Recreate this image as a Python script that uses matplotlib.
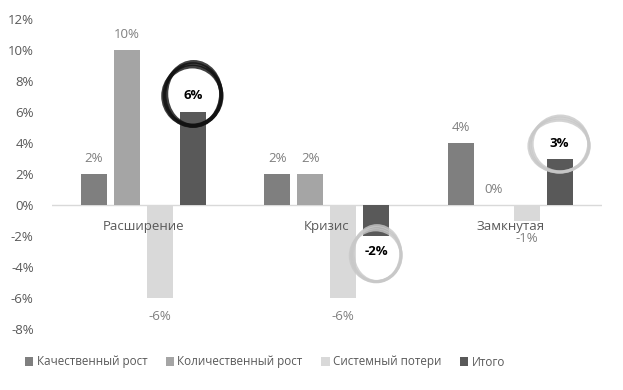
import numpy as np
import matplotlib.pyplot as plt
from matplotlib.patches import Ellipse

categories = ['Расширение', 'Кризис', 'Замкнутая']
series = ['Качественный рост', 'Количественный рост', 'Системный потери', 'Итого']
values = [
    [2, 2, 4],      # Качественный рост
    [10, 2, 0],     # Количественный рост
    [-6, -6, -1],   # Системный потери
    [6, -2, 3],     # Итого
]
colors = ['#7f7f7f', '#a5a5a5', '#d9d9d9', '#595959']
yticks = list(range(-8, 13, 2))

plt.rcParams['font.family'] = ['Open Sans', 'DejaVu Sans']

fig = plt.figure(figsize=(6.23, 3.90), dpi=100)
ax = fig.add_axes([0.083, 0.156, 0.883, 0.795])

x = np.arange(len(categories))
step = 0.18
width = 0.142
for i, (name, vals) in enumerate(zip(series, values)):
    xs = x + (i - 1.5) * step
    ax.bar(xs, vals, width=width, color=colors[i], label=name, zorder=2)
    for xi, v in zip(xs, vals):
        if i == 3:
            continue
        off = 16 if v >= 0 else -18
        ax.annotate(f'{v}%', (xi, v), xytext=(0, off), textcoords='offset pixels',
                    ha='center', va='center', fontsize=9.5, color='#7f7f7f', zorder=4)

# Итого labels, bold, circled
tot_x = x + 1.5 * step
tot_label_y = [7.1, -3.0, 4.0]
for xi, v, ly in zip(tot_x, values[3], tot_label_y):
    ax.text(xi, ly, f'{v}%', ha='center', va='center', fontsize=9.5,
            fontweight='bold', color='black', zorder=5)

# hand-drawn circles (decoration)
circles = [
    # x, y, w, h, color, lw
    (tot_x[0], 7.1, 0.31, 4.0, '#111111', 4.5),
    (tot_x[1], -3.2, 0.27, 3.5, '#c8c8c8', 3.5),
    (tot_x[2], 3.87, 0.32, 3.5, '#c8c8c8', 3.5),
]
jitter = [(0, 0, 1.0, 1.0), (0.004, 0.08, 0.96, 1.03), (-0.003, -0.06, 1.03, 0.95)]
for cx, cy, w, h, c, lw in circles:
    for dx, dy, sw, sh in jitter:
        ax.add_patch(Ellipse((cx + dx, cy + dy), w * sw, h * sh, fill=False,
                             edgecolor=c, lw=lw * 0.6, alpha=0.8, zorder=3))

for xi, cat in zip(x, categories):
    ax.annotate(cat, (xi, 0), xytext=(0, -21), textcoords='offset pixels',
                ha='center', va='center', fontsize=9.5, color='#595959', zorder=4)

ax.axhline(0, color='#d9d9d9', lw=1, zorder=1)
ax.set_xlim(-0.5, 2.5)
ax.set_ylim(-8, 12)
ax.set_yticks(yticks)
ax.set_yticklabels([f'{t}%' for t in yticks], fontsize=9.5, color='#595959')
ax.tick_params(axis='y', length=0, pad=13)
ax.set_xticks([])
for s in ax.spines.values():
    s.set_visible(False)

fig.legend(loc='center', bbox_to_anchor=(265 / 623, 1 - 362 / 390), ncol=4,
           frameon=False, fontsize=8.4, labelcolor='#595959', handlelength=0.7,
           handleheight=0.7, handletextpad=0.3, columnspacing=1.6)

fig.savefig('out.png', dpi=100)
